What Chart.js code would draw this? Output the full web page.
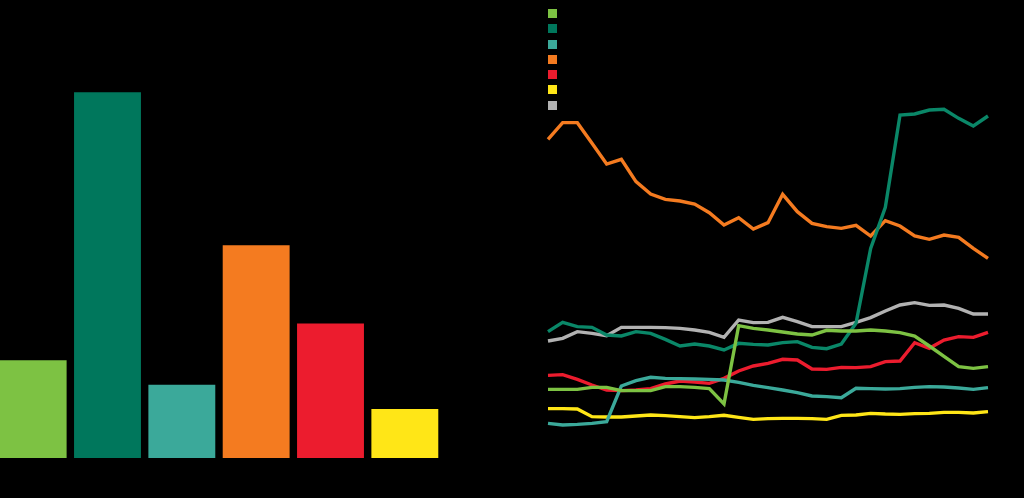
<!DOCTYPE html>
<html>
<head>
<meta charset="utf-8">
<script src="https://cdn.jsdelivr.net/npm/chart.js@4"></script>
<style>
  html, body { margin:0; padding:0; background:#000; width:1024px; height:498px; overflow:hidden; font-family:"Open Sans", sans-serif; }
  #barWrap { position:absolute; left:-4px; top:30px; width:446px; height:428px; }
  #lineWrap { position:absolute; left:538px; top:90px; width:460px; height:360px; }
  #legend { position:absolute; left:548px; top:9px; }
  .item { height:15.3px; display:flex; align-items:flex-start; }
  .sw { width:9px; height:9px; }
</style>
</head>
<body>
<div id="barWrap"><canvas id="bar"></canvas></div>
<div id="legend"></div>
<div id="lineWrap"><canvas id="line"></canvas></div>
<script>
// ---- data ----
const seriesColors = ["#7dc243", "#00775c", "#3ba99a", "#f47b20", "#ec1c2e", "#ffe617", "#b2b2b2"];
const lineColors = ["#7dc243", "#0a8768", "#3ba99a", "#f47b20", "#ec1c2e", "#ffe617", "#b2b2b2"];
const barCategories = ["A", "B", "C", "D", "E", "F"];
const barValues = [8.0, 29.9, 6.0, 17.4, 11.0, 4.0];

const periods = Array.from({length: 31}, (_, i) => String(i + 1));
const lightGreen = [15.2,15.2,15.2,15.8,15.8,14.8,14.8,14.8,16.0,16.0,15.8,15.4,10.8,34.3,33.5,33.0,32.4,31.8,31.5,32.9,32.7,32.7,33.0,32.7,32.2,31.2,28.2,25.1,22.0,21.5,22.0];
const darkGreen = [32.5,35.3,34.0,33.8,31.5,31.2,32.5,32.0,30.2,28.2,28.8,28.2,27.0,29.0,28.7,28.5,29.2,29.5,27.8,27.4,28.8,35.0,57.5,69.8,97.5,97.8,99.0,99.2,96.5,94.2,97.2];
const teal = [5.0,4.5,4.7,5.0,5.5,16.2,17.8,18.8,18.5,18.4,18.3,18.2,18.0,17.3,16.4,15.7,15.0,14.2,13.2,13.0,12.7,15.5,15.4,15.3,15.4,15.8,16.0,15.9,15.6,15.2,15.7];
const orange = [90.2,95.2,95.2,89.0,82.8,84.2,77.5,73.8,72.2,71.7,70.8,68.2,64.5,66.7,63.3,65.2,73.7,68.5,65.0,64.0,63.5,64.4,61.2,65.8,64.2,61.2,60.2,61.5,60.8,57.5,54.5];
const red = [19.4,19.6,18.2,16.5,15.0,14.8,15.0,15.4,16.8,17.7,17.4,17.0,18.5,20.7,22.2,23.0,24.2,24.0,21.3,21.2,21.8,21.7,22.0,23.5,23.7,29.2,27.5,30.0,31.0,30.8,32.3];
const yellow = [9.4,9.4,9.3,7.0,6.9,6.9,7.2,7.5,7.3,7.0,6.7,7.0,7.4,6.8,6.2,6.4,6.5,6.5,6.4,6.2,7.4,7.5,8.0,7.8,7.7,7.9,8.0,8.3,8.3,8.1,8.5];
const grey = [29.7,30.5,32.5,32.0,31.3,33.8,33.8,33.8,33.7,33.5,33.0,32.3,30.8,36.0,35.2,35.3,36.8,35.5,34.0,34.0,34.0,35.3,36.7,38.7,40.5,41.2,40.4,40.5,39.5,37.8,37.8];
const lineSeries = [lightGreen, darkGreen, teal, orange, red, yellow, grey];

// ---- legend ----
const leg = document.getElementById('legend');
seriesColors.forEach(c => {
  const it = document.createElement('div'); it.className = 'item';
  const sw = document.createElement('div'); sw.className = 'sw'; sw.style.background = c;
  it.appendChild(sw); leg.appendChild(it);
});

// ---- bar chart ----
new Chart(document.getElementById('bar'), {
  type: 'bar',
  data: { labels: barCategories, datasets: [{ data: barValues, backgroundColor: seriesColors.slice(0, 6), borderWidth: 0, categoryPercentage: 1.0, barPercentage: 0.9 }] },
  options: {
    responsive: true, maintainAspectRatio: false, animation: false,
    layout: { padding: 0 },
    plugins: { legend: { display: false }, tooltip: { enabled: false } },
    scales: {
      x: { display: false },
      y: { display: false, min: 0, max: 35 }
    }
  }
});

// ---- line chart ----
new Chart(document.getElementById('line'), {
  type: 'line',
  data: {
    labels: periods,
    datasets: lineSeries.map((d, i) => ({
      data: d, borderColor: lineColors[i], backgroundColor: lineColors[i],
      borderWidth: 3.4, pointRadius: 0, tension: 0, fill: false, clip: false,
      borderJoinStyle: 'miter'
    }))
  },
  options: {
    responsive: true, maintainAspectRatio: false, animation: false,
    layout: { padding: { left: 10, right: 10, top: 10, bottom: 10 } },
    plugins: { legend: { display: false }, tooltip: { enabled: false } },
    scales: {
      x: { display: false, offset: false },
      y: { display: false, min: 0, max: 102 }
    }
  }
});
</script>
</body>
</html>
